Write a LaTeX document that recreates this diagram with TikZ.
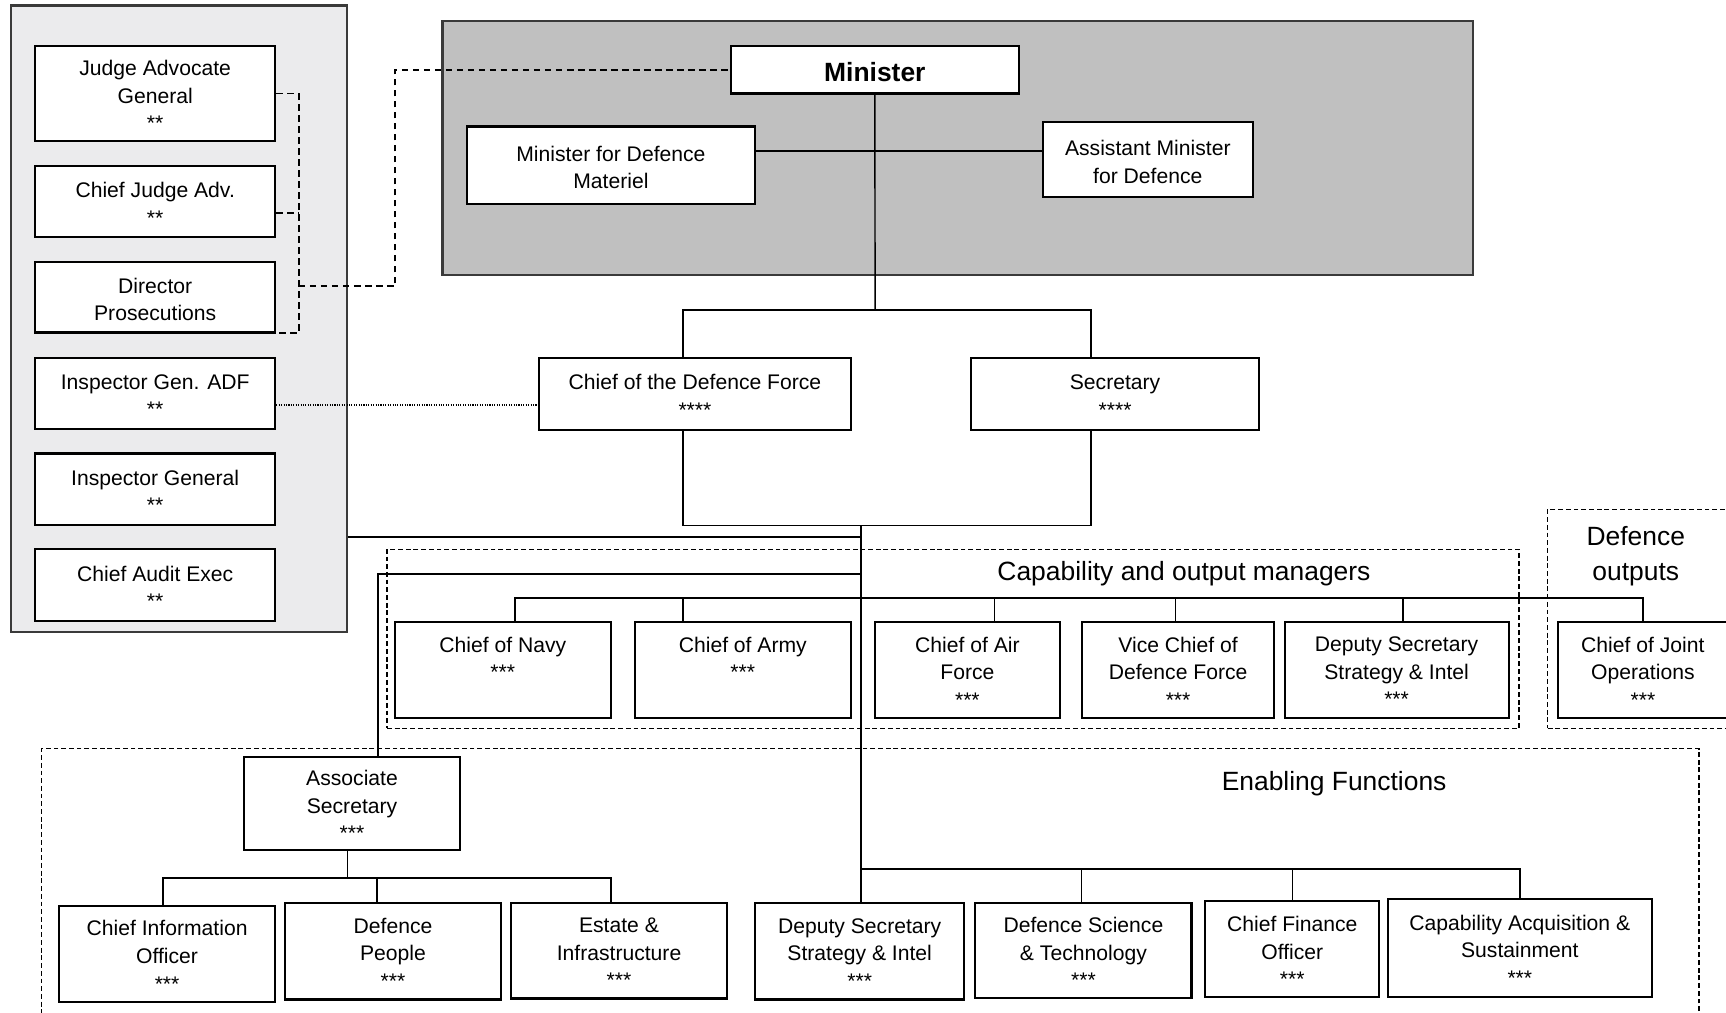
\documentclass[tikz,border=0pt]{standalone}
\usepackage{fontspec}
\setmainfont{Liberation Sans}
\usetikzlibrary{fit}
\definecolor{panelA}{HTML}{EBEBED}
\definecolor{panelB}{HTML}{C0C0C0}
\definecolor{edgec}{HTML}{3A3A3A}
\tikzset{
  orgbox/.style={draw=black, line width=1pt, fill=white, inner sep=0pt},
  boxtext/.style={align=center, inner sep=0pt, font=\fontsize{9.6}{12.5}\selectfont},
  conn/.style={line width=0.65pt},
  grp/.style={draw, line width=0.55pt, dash pattern=on 2.2pt off 1.3pt},
  dsh/.style={line width=0.7pt, dash pattern=on 3pt off 2pt},
  dotl/.style={line width=0.55pt, dash pattern=on 0.5pt off 0.6pt},
  panel/.style={draw=edgec, line width=1pt, inner sep=0pt},
  grptitle/.style={font=\fontsize{12}{16}\selectfont, align=center, inner sep=0pt}
}
% box from (x1,y1) to (x2,y2) in picture units, named #6, text #7
\newcommand\ob[7][]{%
  \node[orgbox,minimum width={(#4-#2)*0.5pt},minimum height={(#5-#3)*0.5pt}] (#6) at ({(#2+#4)/2},{(#3+#5)/2}) {};
  \node[boxtext,#1] (#6-text) at ([yshift=-1pt]#6.center) {#7};}
\begin{document}
\begin{tikzpicture}[x=0.5pt,y=-0.5pt]
\useasboundingbox (0,0) rectangle (1568,920);
\clip (0,0) rectangle (1568,920);
\fill[white] (0,0) rectangle (1568,920);

% panels
\node[panel, fill=panelA, fit={(10,5) (315,574)}] (lpanel) {};
\node[panel, fill=panelB, fit={(402,19) (1338,250)}] (mpanel) {};

% group boxes
\node[grp, inner sep=0pt, fit={(351.6,499) (1380,661.6)}] (capgrp) {};
\node[grp, inner sep=0pt, fit={(1406,462.7) (1590,661.6)}] (outgrp) {};
\node[grp, inner sep=0pt, fit={(38,680) (1543.5,960)}] (enagrp) {};
\node[grptitle] (captitle) at (1075.6,521) {Capability and output managers};
\node[grptitle] (outtitle) at (1486,505) {Defence\\outputs};
\node[grptitle] (enatitle) at (1212,712) {Enabling Functions};

% left panel boxes
\ob{32}{42}{250}{128}{jag}{Judge Advocate\\General\\{}**}
\ob{32}{151}{250}{215}{cja}{Chief Judge Adv.\\{}**}
\ob{32}{238}{250}{302}{dp}{Director\\Prosecutions}
\ob{32}{325}{250}{390}{igadf}{Inspector Gen. ADF\\{}**}
\ob{32}{412}{250}{477}{ig}{Inspector General\\{}**}
\ob{32}{499}{250}{564}{cae}{Chief Audit Exec\\{}**}

% minister panel
\ob[font=\fontsize{12}{15}\selectfont\bfseries]{664}{42}{925.5}{85}{min}{Minister}
\ob{424}{115}{686}{185}{mfdm}{Minister for Defence\\Materiel}
\ob{947.5}{111}{1138}{179}{amfd}{Assistant Minister\\for Defence}

% top executives
\ob{489.7}{325}{773}{390.5}{cdf}{Chief of the Defence Force\\{}****}
\ob{882}{325}{1144}{390.5}{sec}{Secretary\\{}****}

% capability and output managers
\ob{358.5}{565}{555}{652}{navy}{Chief of Navy\\{}***\\~}
\ob{576.6}{565}{773}{652}{army}{Chief of Army\\{}***\\~}
\ob{794.6}{565}{963}{652}{air}{Chief of Air\\Force\\{}***}
\ob{983}{565}{1157.5}{652}{vcdf}{Vice Chief of\\Defence Force\\{}***}
\ob{1167}{565}{1370.5}{652}{dssi}{Deputy Secretary\\Strategy \& Intel\\{}***}
\ob{1415}{565}{1570}{652}{cjops}{Chief of Joint\\Operations\\{}***}

% enabling functions
\ob{221.6}{688}{418}{772}{asec}{Associate\\Secretary\\{}***}
\ob{53.8}{822.7}{249.8}{910}{cio}{Chief Information\\Officer\\{}***}
\ob{259}{820}{455}{908}{dpeople}{Defence\\People\\{}***}
\ob{464}{820}{660.7}{907}{estate}{Estate \&\\Infrastructure\\{}***}
\ob{686}{820}{876}{908}{dss2}{Deputy Secretary\\Strategy \& Intel\\{}***}
\ob{886}{820}{1082.5}{906.6}{dst}{Defence Science\\\& Technology\\{}***}
\ob{1095}{818.5}{1253}{906}{cfo}{Chief Finance\\Officer\\{}***}
\ob{1260.7}{816.7}{1500.7}{905.7}{cas}{Capability Acquisition \&\\Sustainment\\{}***}

% junction coordinates
\coordinate (mj) at (800,137);
\coordinate (jtop) at (795,281.6);
\coordinate (jcl) at (620.5,281.6);
\coordinate (jcr) at (991,281.6);
\coordinate (jbl) at (620.5,477.6);
\coordinate (jbr) at (991,477.6);
\coordinate (jmain) at (782,477.6);
\coordinate (jl) at (782,487.5);
\coordinate (ja) at (782,521.5);
\coordinate (ja2) at (343.6,521.5);
\coordinate (jr1) at (468,543);
\coordinate (jr2) at (1492.6,543);
\coordinate (jrA) at (620.4,543);
\coordinate (jrB) at (903.7,543);
\coordinate (jrC) at (1068,543);
\coordinate (jrD) at (1274.6,543);
\coordinate (je1) at (782,789.5);
\coordinate (je2) at (1381,789.5);
\coordinate (jeD) at (982.5,789.5);
\coordinate (jeC) at (1174.4,789.5);
\coordinate (js) at (315.5,797.6);
\coordinate (js1) at (148,797.6);
\coordinate (js2) at (342.6,797.6);
\coordinate (js3) at (555,797.6);
\coordinate (b1) at (271.5,85);
\coordinate (b2) at (271.5,193.5);
\coordinate (b3) at (271.5,260);
\coordinate (b4) at (271.5,302.5);
\coordinate (m1) at (359,260);
\coordinate (m2) at (359,63.5);
\coordinate (dl) at (400,368);

% minister connectors
\draw[conn] (mj -| mfdm.east) -- (mj -| amfd.west);
\draw[conn] (min.south) -- (jtop);
\draw[conn] (jcl |- cdf.north) -- (jcl) -- (jcr) -- (jcr |- sec.north);
\draw[conn] (jbl |- cdf.south) -- (jbl) -- (jbr) -- (jbr |- sec.south);

% main spine
\draw[conn] (jmain) -- (jmain |- dss2.north);
\draw[conn, line width=0.9pt] (jl -| lpanel.east) -- (jl);
\draw[conn, line width=0.9pt] (ja) -- (ja2) -- (ja2 |- asec.north);

% capability row
\draw[conn, line width=0.9pt] (jr1 |- navy.north) -- (jr1) -- (jr2) -- (jr2 |- cjops.north);
\draw[conn] (jrA) -- (jrA |- army.north);
\draw[conn] (jrB) -- (jrB |- air.north);
\draw[conn] (jrC) -- (jrC |- vcdf.north);
\draw[conn] (jrD) -- (jrD |- dssi.north);

% enabling row
\draw[conn] (je1) -- (je2) -- (je2 |- cas.north);
\draw[conn] (jeD) -- (jeD |- dst.north);
\draw[conn] (jeC) -- (jeC |- cfo.north);

% associate secretary row
\draw[conn] (js |- asec.south) -- (js);
\draw[conn] (js1 |- cio.north) -- (js1) -- (js3) -- (js3 |- estate.north);
\draw[conn] (js2) -- (js2 |- dpeople.north);

% legal bracket
\draw[dsh] (b1 -| jag.east) -- (b1) -- (b4) -- (b4 -| dp.east);
\draw[dsh] (b2 -| cja.east) -- (b2);
\draw[dsh] (b3) -- (m1) -- (m2) -- (m2 -| min.west);

% inspector general ADF
\draw[dotl] (dl -| igadf.east) -- (dl -| cdf.west);
\end{tikzpicture}
\end{document}
